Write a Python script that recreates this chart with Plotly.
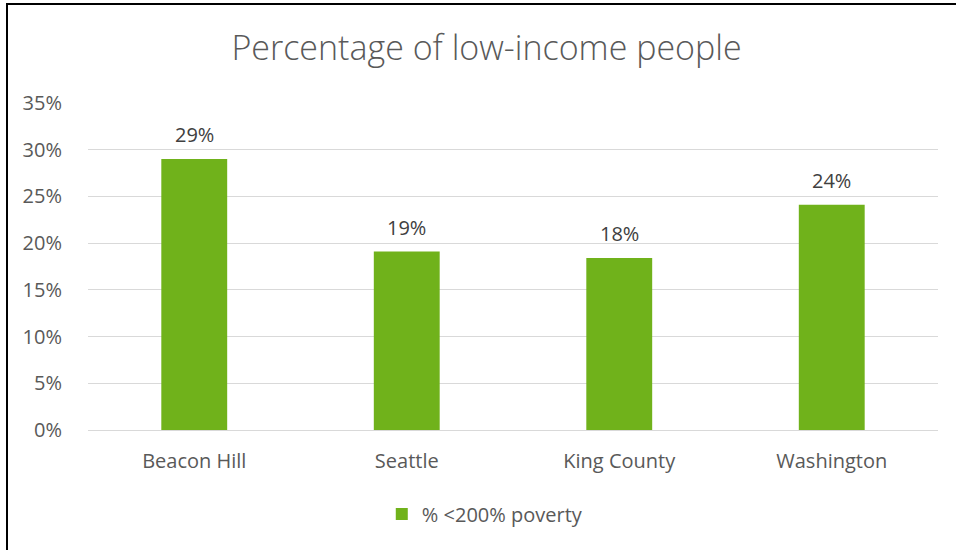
import plotly.graph_objects as go

categories = ["Beacon Hill", "Seattle", "King County", "Washington"]
values = [0.29, 0.191, 0.184, 0.241]
series_name = "% <200% poverty"
title_text = "Percentage of low-income people"
y_ticks = [0, 0.05, 0.10, 0.15, 0.20, 0.25, 0.30, 0.35]

W, H = 956, 550
L, R, T, B = 88, 18, 103, 120
pw, ph = W - L - R, H - T - B

FONT = "Open Sans, sans-serif"
GREY = "#595959"
GREEN = "#70B21B"
FS = 20

fig = go.Figure()
fig.add_trace(go.Bar(
    x=categories, y=values, name=series_name,
    marker=dict(color=GREEN, line=dict(width=0)),
    cliponaxis=False,
))

for c, v in zip(categories, values):
    fig.add_annotation(x=c, y=v, text=f"{v:.0%}", showarrow=False,
                       yanchor="bottom", yshift=9,
                       font=dict(family=FONT, size=FS, color="#404040"))

fig.update_layout(
    width=W, height=H,
    margin=dict(l=L, r=R, t=T, b=B, autoexpand=False),
    paper_bgcolor="white", plot_bgcolor="white",
    bargap=0.69,
    showlegend=True,
    title=dict(text=title_text, x=486.5 / W, xanchor="center", xref="container",
               y=1 - 48 / H, yref="container", yanchor="middle",
               font=dict(family=FONT, size=34, color=GREY, weight=300)),
    legend=dict(orientation="h", x=0.4668, xanchor="center",
                y=-(514 - 430) / ph, yanchor="middle",
                font=dict(family=FONT, size=FS, color=GREY),
                itemwidth=30),
    xaxis=dict(showgrid=False, showline=False, zeroline=False,
               ticks="outside", ticklen=13, tickcolor="rgba(0,0,0,0)",
               tickfont=dict(family=FONT, size=FS, color=GREY)),
    yaxis=dict(range=[0, 0.35], tickvals=y_ticks, tickformat=".0%",
               showgrid=True, gridcolor="#D9D9D9", gridwidth=1.3,
               zeroline=True, zerolinecolor="#D9D9D9", zerolinewidth=1.3,
               showline=False,
               ticks="outside", ticklen=21, tickcolor="rgba(0,0,0,0)",
               tickfont=dict(family=FONT, size=FS, color=GREY)),
    shapes=[
        dict(type="line", xref="paper", yref="paper",
             x0=(7 - L) / pw, x1=(7 - L) / pw, y0=1 + (T - 3) / ph, y1=-(B + 5) / ph,
             line=dict(color="black", width=2)),
        dict(type="line", xref="paper", yref="paper",
             x0=(6 - L) / pw, x1=(W + 5 - L) / pw, y0=1 + (T - 4) / ph, y1=1 + (T - 4) / ph,
             line=dict(color="black", width=2)),
    ],
)

fig.write_html("out.html")
